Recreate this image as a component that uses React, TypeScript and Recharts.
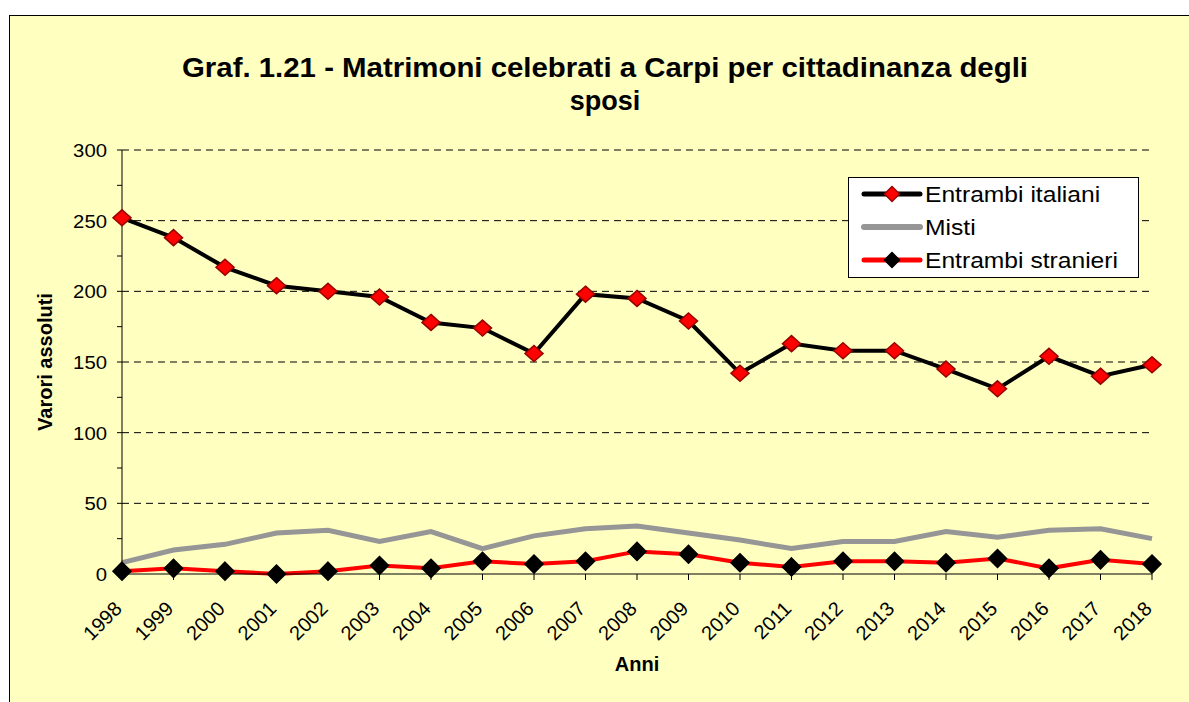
import React from 'react';
import { LineChart, Line, XAxis, YAxis, CartesianGrid, Legend, Label } from 'recharts';

const years = ['1998', '1999', '2000', '2001', '2002', '2003', '2004', '2005', '2006', '2007', '2008', '2009', '2010', '2011', '2012', '2013', '2014', '2015', '2016', '2017', '2018'];
const entrambiItaliani = [252, 238, 217, 204, 200, 196, 178, 174, 156, 198, 195, 179, 142, 163, 158, 158, 145, 131, 154, 140, 148];
const misti = [8, 17, 21, 29, 31, 23, 30, 18, 27, 32, 34, 29, 24, 18, 23, 23, 30, 26, 31, 32, 25];
const entrambiStranieri = [2, 4, 2, 0, 2, 6, 4, 9, 7, 9, 16, 14, 8, 5, 9, 9, 8, 11, 4, 10, 7];
const yTicks = [0, 25, 50, 75, 100, 125, 150, 175, 200, 225, 250, 275, 300];
const gridValues = [50, 100, 150, 200, 250, 300];
const seriesOrder = ['italiani', 'misti', 'stranieri'];
const seriesNames: Record<string, string> = { italiani: 'Entrambi italiani', misti: 'Misti', stranieri: 'Entrambi stranieri' };

const data = years.map((year, i) => ({
  year,
  italiani: entrambiItaliani[i],
  misti: misti[i],
  stranieri: entrambiStranieri[i],
}));

const FONT = '"Liberation Sans", Arial, Helvetica, sans-serif';

const seriesStyle: Record<string, any> = {
  italiani: { stroke: '#000000', width: 4, marker: { fill: '#FF0000', stroke: '#990000', rx: 9, ry: 8 } },
  misti: { stroke: '#969696', width: 5, marker: null },
  stranieri: { stroke: '#FF0000', width: 4, marker: { fill: '#000000', stroke: '#000000', rx: 9, ry: 9 } },
};

const diamondPath = (cx: number, cy: number, rx: number, ry: number) =>
  `M${cx},${cy - ry}L${cx + rx},${cy}L${cx},${cy + ry}L${cx - rx},${cy}Z`;

const makeDot = (key: string) => (props: any) => {
  const m = seriesStyle[key].marker;
  if (props.cx == null || props.cy == null) return <g key={`${key}-${props.index}`} />;
  return (
    <path
      key={`${key}-${props.index}`}
      d={diamondPath(props.cx, props.cy, m.rx, m.ry)}
      fill={m.fill}
      stroke={m.stroke}
      strokeWidth={1.5}
    />
  );
};

const YTick = (props: any) => {
  const { x, y, payload } = props;
  if (payload.value % 50 !== 0) return <g />;
  return (
    <g transform={`translate(${x - 8},${y}) scale(1.07,1)`}>
      <text x={0} y={0} dy="0.36em" textAnchor="end" fontSize={19} fontFamily={FONT} fill="#000">
        {payload.value}
      </text>
    </g>
  );
};

const XTick = (props: any) => {
  const { x, y, payload } = props;
  return (
    <g transform={`translate(${x + 1},${y + 28}) rotate(-45)`}>
      <text x={0} y={0} textAnchor="end" fontSize={20} fontFamily={FONT} fill="#000">
        {payload.value}
      </text>
    </g>
  );
};

const renderLegend = (props: any) => {
  const payload = [...(props.payload || [])].sort(
    (a: any, b: any) => seriesOrder.indexOf(a.dataKey) - seriesOrder.indexOf(b.dataKey)
  );
  return (
    <svg width={291} height={101} style={{ display: 'block' }}>
      <rect x={0.5} y={0.5} width={290} height={100} fill="#FFFFFF" stroke="#000000" />
      {payload.map((entry: any, i: number) => {
        const s = seriesStyle[entry.dataKey];
        const cy = 17 + i * 33;
        return (
          <g key={entry.dataKey}>
            <line x1={16} x2={72} y1={cy} y2={cy} stroke={s.stroke} strokeWidth={s.width + 1} strokeLinecap="round" />
            {s.marker && (
              <path d={diamondPath(44, cy, 7.5, 7.5)} fill={s.marker.fill} stroke={s.marker.stroke} strokeWidth={1.5} />
            )}
            <g transform={`translate(77,${cy}) scale(1.12,1)`}>
              <text x={0} y={0} dy="0.36em" fontSize={22} fontFamily={FONT} fill="#000">
                {entry.value}
              </text>
            </g>
          </g>
        );
      })}
    </svg>
  );
};

export default function App() {
  return (
    <div style={{ position: 'absolute', left: 0, top: 0, width: 1189, height: 702, background: '#FFFFFF', overflow: 'hidden' }}>
      <div
        style={{
          position: 'absolute',
          left: 9,
          top: 15,
          width: 1200,
          height: 700,
          background: '#FFFFC0',
          borderLeft: '1px solid #000',
          borderTop: '1px solid #000',
        }}
      />
      <svg width={1189} height={702} style={{ position: 'absolute', left: 0, top: 0, pointerEvents: 'none' }}>
        <text
          x={605}
          y={77}
          textAnchor="middle"
          fontSize={27}
          fontWeight="bold"
          fontFamily={FONT}
          fill="#000"
          textLength={846}
          lengthAdjust="spacingAndGlyphs"
        >
          Graf. 1.21 - Matrimoni celebrati a Carpi per cittadinanza degli
        </text>
        <text x={605} y={110} textAnchor="middle" fontSize={27} fontWeight="bold" fontFamily={FONT} fill="#000">
          sposi
        </text>
      </svg>
      <div style={{ position: 'absolute', left: 0, top: 0 }}>
        <LineChart width={1189} height={702} data={data} margin={{ top: 150, right: 37, bottom: 68, left: 62 }}>
          <CartesianGrid
            horizontal={true}
            vertical={false}
            stroke="#000000"
            strokeDasharray="7 5"
            horizontalValues={gridValues}
          />
          <XAxis
            dataKey="year"
            interval={0}
            height={60}
            tickSize={6}
            tickLine={{ stroke: '#000' }}
            axisLine={{ stroke: '#000' }}
            tick={<XTick />}
          >
            <Label
              content={(p: any) => {
                const vb = p.viewBox || {};
                return (
                  <text x={vb.x + vb.width / 2} y={vb.y + 97} textAnchor="middle" fontSize={20} fontWeight="bold" fontFamily={FONT} fill="#000">
                    Anni
                  </text>
                );
              }}
            />
          </XAxis>
          <YAxis
            domain={[0, 300]}
            ticks={yTicks}
            interval={0}
            width={60}
            tickSize={5}
            tickLine={{ stroke: '#000' }}
            axisLine={{ stroke: '#000' }}
            tick={<YTick />}
          >
            <Label
              content={(p: any) => {
                const vb = p.viewBox || {};
                const cx = vb.x - 17;
                const cy = vb.y + vb.height / 2;
                return (
                  <text x={cx} y={cy} dy="0.36em" transform={`rotate(-90, ${cx}, ${cy})`} textAnchor="middle" fontSize={20} fontWeight="bold" fontFamily={FONT} fill="#000">
                    Varori assoluti
                  </text>
                );
              }}
            />
          </YAxis>
          <Legend
            layout="vertical"
            align="center"
            verticalAlign="middle"
            content={renderLegend}
            wrapperStyle={{ left: 848, top: 177, width: 291, height: 101 }}
          />
          <Line
            type="linear"
            dataKey="italiani"
            name={seriesNames.italiani}
            stroke={seriesStyle.italiani.stroke}
            strokeWidth={seriesStyle.italiani.width}
            dot={makeDot('italiani')}
            activeDot={false}
            isAnimationActive={false}
          />
          <Line
            type="linear"
            dataKey="misti"
            name={seriesNames.misti}
            stroke={seriesStyle.misti.stroke}
            strokeWidth={seriesStyle.misti.width}
            dot={false}
            activeDot={false}
            isAnimationActive={false}
          />
          <Line
            type="linear"
            dataKey="stranieri"
            name={seriesNames.stranieri}
            stroke={seriesStyle.stranieri.stroke}
            strokeWidth={seriesStyle.stranieri.width}
            dot={makeDot('stranieri')}
            activeDot={false}
            isAnimationActive={false}
          />
        </LineChart>
      </div>
    </div>
  );
}
